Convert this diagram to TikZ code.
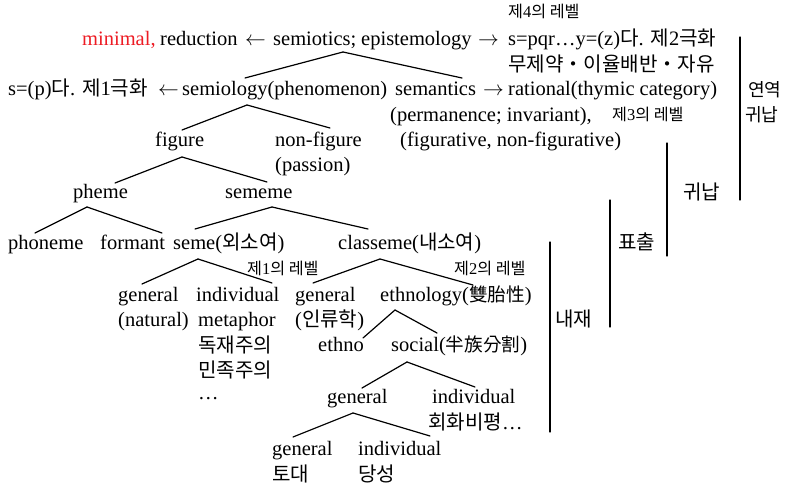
\documentclass[tikz,border=0pt]{standalone}
\usepackage{fontspec}
\setmainfont{Liberation Serif}
\newfontfamily\krfont{Noto Sans CJK KR}[Scale=0.98]
\newcommand{\hk}[1]{{\krfont #1}}
\definecolor{minred}{RGB}{237,28,36}
\newcommand{\bigfs}{\fontsize{20.5}{25}\selectfont}
\newcommand{\smallfs}{\fontsize{16.5}{19}\selectfont}
\newcommand{\sidefs}{\fontsize{18.5}{25}\selectfont}
\begin{document}
\begin{tikzpicture}[x=1pt,y=-1pt,
  txt/.style={inner sep=0pt,anchor=base west,font=\bigfs},
  sml/.style={inner sep=0pt,anchor=base west,font=\smallfs},
  side/.style={inner sep=0pt,anchor=base west,font=\sidefs},
  tl/.style={line width=1.2pt,line cap=round}]
\useasboundingbox (0,0) rectangle (785,486);
% row 0
\node[sml] (lvl4) at (508,18) {\hk{제}4\hk{의 레벨}};
% row 1
\node[txt,text=minred] (minimal) at (82,46) {minimal,};
\node[txt] (reduction) at (160,46) {reduction};
\node[txt] (larr1) at (245,46) {$\leftarrow$};
\node[txt] (semiotics) at (273,46) {semiotics;};
\node[txt] (episte) at (361,46) {epistemology};
\node[txt] (rarr1) at (478,46) {$\rightarrow$};
\node[txt] (spqr) at (508,46) {s=pqr…y=(z)\hk{다}. \hk{제}2\hk{극화}};
\node[txt] (mujeyak) at (508,72) {\hk{무제약・이율배반・자유}};
% row 2
\node[txt] (sp) at (8,96) {s=(p)\hk{다}. \hk{제}1\hk{극화}};
\node[txt] (larr2) at (158,96) {$\leftarrow$};
\node[txt] (semiology) at (182,96) {semiology(phenomenon)};
\node[txt] (semantics) at (395,96) {semantics};
\node[txt] (rarr2) at (483,96) {$\rightarrow$};
\node[txt] (rational) at (508,96) {rational(thymic category)};
\node[txt] (perm) at (390,122) {(permanence; invariant),};
\node[sml] (lvl3) at (612,121) {\hk{제}3\hk{의 레벨}};
\node[txt] (figur) at (400,147) {(figurative, non-figurative)};
% figure level
\node[txt] (figure) at (155,147) {figure};
\node[txt] (nonfigure) at (275,147) {non-figure};
\node[txt] (passion) at (275,172) {(passion)};
\node[txt] (pheme) at (73,199) {pheme};
\node[txt] (sememe) at (225,199) {sememe};
\node[txt] (phoneme) at (8,250) {phoneme};
\node[txt] (formant) at (100,250) {formant};
\node[txt] (seme) at (173,250) {seme(\hk{외소여})};
\node[txt] (classeme) at (338,250) {classeme(\hk{내소여})};
\node[sml] (lvl1) at (247,275) {\hk{제}1\hk{의 레벨}};
\node[sml] (lvl2) at (454,275) {\hk{제}2\hk{의 레벨}};
\node[txt] (genA) at (118,302) {general};
\node[txt] (indA) at (196,302) {individual};
\node[txt] (genB) at (295,302) {general};
\node[txt] (ethnology) at (380,302) {ethnology({\krfont\fontsize{19}{25}\selectfont 雙胎性})};
\node[txt] (natural) at (118,327) {(natural)};
\node[txt] (metaphor) at (198,327) {metaphor};
\node[txt] (inryu) at (295,327) {(\hk{인류학})};
\node[txt] (dokjae) at (198,353) {\hk{독재주의}};
\node[txt] (ethno) at (318,352) {ethno};
\node[txt] (social) at (391,352) {social({\krfont\fontsize{19}{25}\selectfont 半族分割})};
\node[txt] (minjok) at (198,378) {\hk{민족주의}};
\node[txt] (dots) at (198,400) {…};
\node[txt] (genC) at (327,404) {general};
\node[txt] (indC) at (432,404) {individual};
\node[txt] (hoehwa) at (428,430) {\hk{회화비평}…};
\node[txt] (genD) at (272,455) {general};
\node[txt] (indD) at (358,455) {individual};
\node[txt] (todae) at (272,481) {\hk{토대}};
\node[txt] (dangseong) at (358,481) {\hk{당성}};
% right labels
\node[side] (yeonyeok) at (748,97) {\hk{연역}};
\node[side] (gwinapA) at (745,122) {\hk{귀납}};
\node[txt] (gwinapB) at (683,200) {\hk{귀납}};
\node[txt] (pyochul) at (618,250) {\hk{표출}};
\node[txt] (naejae) at (555,327) {\hk{내재}};
\draw[tl] (740,37) -- (740,200);
\draw[tl] (667,143) -- (667,256);
\draw[tl] (610,200) -- (610,327);
\draw[tl] (550,242) -- (550,432);
% tree connectors
\draw[tl] ([shift={(70,6)}]semiotics.base west) -- ([shift={(63,-18)}]semiology.base west);
\draw[tl] ([shift={(70,6)}]semiotics.base west) -- ([shift={(67,-18)}]semantics.base west);
\draw[tl] ([shift={(65,9)}]semiology.base west) -- ([shift={(27,-17)}]figure.base west);
\draw[tl] ([shift={(65,9)}]semiology.base west) -- ([shift={(55,-19)}]nonfigure.base west);
\draw[tl] ([shift={(27,10)}]figure.base west) -- ([shift={(42,-16)}]pheme.base west);
\draw[tl] ([shift={(27,10)}]figure.base west) -- ([shift={(42,-17)}]sememe.base west);
\draw[tl] ([shift={(14,8)}]pheme.base west) -- ([shift={(27,-17)}]phoneme.base west);
\draw[tl] ([shift={(14,8)}]pheme.base west) -- ([shift={(62,-17)}]formant.base west);
\draw[tl] ([shift={(47,8)}]sememe.base west) -- ([shift={(22,-21)}]seme.base west);
\draw[tl] ([shift={(47,8)}]sememe.base west) -- ([shift={(30,-21)}]classeme.base west);
\draw[tl] ([shift={(25,9)}]seme.base west) -- ([shift={(24,-18)}]genA.base west);
\draw[tl] ([shift={(25,9)}]seme.base west) -- ([shift={(76,-19)}]indA.base west);
\draw[tl] ([shift={(42,9)}]classeme.base west) -- ([shift={(18,-19)}]genB.base west);
\draw[tl] ([shift={(42,9)}]classeme.base west) -- ([shift={(93,-17)}]ethnology.base west);
\draw[tl] ([shift={(15,8)}]ethnology.base west) -- ([shift={(45,-14)}]ethno.base west);
\draw[tl] ([shift={(15,8)}]ethnology.base west) -- ([shift={(46,-19)}]social.base west);
\draw[tl] ([shift={(16,10)}]social.base west) -- ([shift={(35,-16)}]genC.base west);
\draw[tl] ([shift={(16,10)}]social.base west) -- ([shift={(43,-17)}]indC.base west);
\draw[tl] ([shift={(26,9)}]genC.base west) -- ([shift={(21,-18)}]genD.base west);
\draw[tl] ([shift={(26,9)}]genC.base west) -- ([shift={(72,-19)}]indD.base west);
\end{tikzpicture}
\end{document}
